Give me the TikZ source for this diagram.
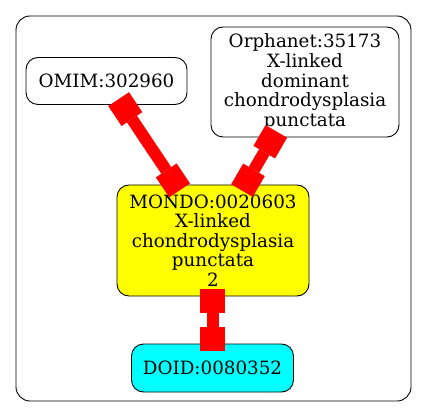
\documentclass[tikz,border=0pt]{standalone}
\usepackage{fontspec}
\setmainfont{DejaVu Serif}
\usetikzlibrary{arrows.meta}
\definecolor{cMondo}{RGB}{255,255,0}
\definecolor{cDoid}{RGB}{0,255,255}
\definecolor{cLink}{RGB}{255,0,0}
\tikzset{
	term/.style    ={rectangle, rounded corners=12pt, draw=black, line width=0.9pt, align=center, inner sep=0pt, fill=white, font=\fontsize{18.3}{19.6}\selectfont},
	teebox/.tip    ={Square[length=24pt, width=25pt, line width=0pt]},
	link/.style    ={teebox-teebox, cLink, line width=12pt, shorten <=-7pt, shorten >=-7pt},
	cluster/.style ={rounded corners=14pt, draw=black, line width=0.9pt},
}
\begin{document}
\begin{tikzpicture}[x=1pt, y=-1pt]
	\useasboundingbox (0,0) rectangle (427,419);
	\draw[cluster] (16,16) rectangle (411,401);
	% terms
	\node[term, minimum width=161pt, minimum height=47pt] (omim) at (106.5,81) {OMIM:302960};
	\node[term, minimum width=188pt, minimum height=110pt] (orpha) at (305,82) {Orphanet:35173\\X-linked\\dominant\\chondrodysplasia\\punctata};
	\node[term, fill=cMondo, minimum width=192pt, minimum height=111pt] (mondo) at (213,240.5) {MONDO:0020603\\X-linked\\chondrodysplasia\\punctata\\2};
	\node[term, fill=cDoid, minimum width=162pt, minimum height=48pt] (doid) at (212.5,368) {DOID:0080352};
	% links
	\draw[link] (omim) -- (mondo);
	\draw[link] (orpha) -- (mondo);
	\draw[link] (mondo.south -| doid.north) -- (doid.north);
\end{tikzpicture}
\end{document}
